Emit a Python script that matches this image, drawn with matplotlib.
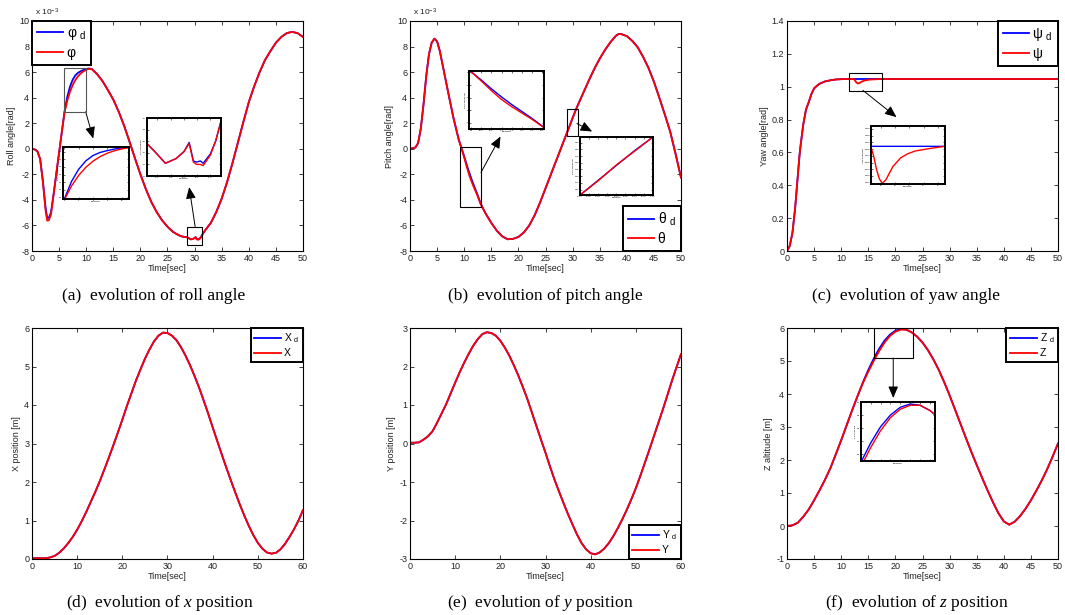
import matplotlib
matplotlib.use('Agg')
import matplotlib.pyplot as plt
from matplotlib.patches import Rectangle

plt.rcParams['font.family'] = ['Liberation Sans', 'DejaVu Sans']
plt.rcParams['mathtext.fontset'] = 'custom'
plt.rcParams['mathtext.rm'] = 'Liberation Sans'
plt.rcParams['mathtext.it'] = 'Liberation Serif:italic'
plt.rcParams['mathtext.bf'] = 'Liberation Sans:bold'
plt.rcParams['axes.unicode_minus'] = False

# ---------------- data ----------------
# roll angle, units of 1e-3 rad
roll_t = [0, 0.5, 1, 1.5, 2, 2.5, 2.8, 3.1, 3.5, 4, 4.5, 5, 5.5, 6, 6.5, 7, 7.5, 8, 8.5, 9,
          9.5, 10, 10.5, 11, 12, 13, 14, 15, 16, 17, 18, 19, 20, 21, 22, 23, 24, 25, 26, 27,
          27.5, 28, 28.6, 28.9, 29.3, 29.7, 30.0, 30.2, 30.36, 30.48, 30.62, 30.73, 31.0, 31.2, 31.4,
          32, 33, 34, 35, 36, 37, 38, 39, 40, 41, 42, 43, 44, 45, 46, 47, 48, 49, 50]
roll_ref = [0, -0.05, -0.2, -0.8, -2.5, -4.6, -5.4, -5.4, -5.0, -3.5, -1.9, -0.3, 1.3, 2.9, 4.05, 4.85, 5.4, 5.75, 5.95, 6.07,
            6.17, 6.24, 6.28, 6.25, 5.85, 5.3, 4.6, 3.85, 2.9, 1.8, 0.55, -0.75, -2.0, -3.15, -4.15, -4.95, -5.6, -6.1, -6.5, -6.75,
            -6.84, -6.89, -6.92, -6.99, -7.09, -7.05, -6.99, -6.91, -7.07, -7.08, -7.07, -7.09, -7.01, -6.9, -6.73,
            -6.35, -5.8, -4.95, -3.9, -2.6, -1.1, 0.5, 2.1, 3.65, 4.9, 6.0, 6.95, 7.65, 8.3, 8.75, 9.05, 9.15, 9.05, 8.75]
roll_act = [0, -0.05, -0.2, -0.8, -2.55, -4.8, -5.62, -5.6, -5.15, -3.55, -1.9, -0.3, 1.3, 2.85, 3.75, 4.45, 4.98, 5.38, 5.68, 5.9,
            6.06, 6.18, 6.26, 6.25, 5.85, 5.3, 4.6, 3.85, 2.9, 1.8, 0.55, -0.75, -2.0, -3.15, -4.15, -4.95, -5.6, -6.1, -6.5, -6.75,
            -6.84, -6.89, -6.92, -6.99, -7.09, -7.05, -6.99, -6.92, -7.08, -7.1, -7.1, -7.11, -7.02, -6.9, -6.73,
            -6.35, -5.8, -4.95, -3.9, -2.6, -1.1, 0.5, 2.1, 3.65, 4.9, 6.0, 6.95, 7.65, 8.3, 8.75, 9.05, 9.15, 9.05, 8.75]

# pitch angle, units of 1e-3 rad
pitch_t = [0, 1, 1.5, 2, 2.5, 3, 3.5, 4, 4.5, 5, 5.5, 6, 7, 8, 9, 9.5, 10, 10.5, 11, 11.5,
           12, 12.5, 13, 13.5, 14, 15, 16, 17, 18, 19, 20, 21, 22, 23, 24, 25, 26, 27, 28, 29,
           29.5, 30, 30.5, 31, 32, 33, 34, 35, 36, 37, 38, 38.5, 39, 40, 41, 42, 43, 44, 45, 46,
           47, 48, 49, 50]
pitch_ref = [0, 0.1, 0.45, 1.6, 3.5, 5.7, 7.4, 8.3, 8.62, 8.4, 7.65, 6.6, 4.5, 2.45, 0.7, 0.05, -0.6, -1.3, -1.95, -2.55,
             -3.1, -3.65, -4.25, -4.7, -5.1, -5.8, -6.4, -6.85, -7.08, -7.05, -6.9, -6.55, -6.0, -5.2, -4.2, -3.1, -2.0, -0.9, 0.2, 1.3,
             1.85, 2.4, 2.95, 3.45, 4.4, 5.35, 6.25, 7.05, 7.75, 8.35, 8.85, 8.98, 8.97, 8.82, 8.45, 7.95, 7.2, 6.33, 5.25, 4.0,
             2.7, 1.35, -0.4, -2.25]
pitch_act = [0, 0.1, 0.45, 1.6, 3.5, 5.7, 7.4, 8.3, 8.62, 8.4, 7.65, 6.6, 4.5, 2.45, 0.7, 0.05, -0.68, -1.45, -2.15, -2.72,
             -3.22, -3.72, -4.28, -4.7, -5.1, -5.8, -6.4, -6.85, -7.08, -7.05, -6.9, -6.55, -6.0, -5.2, -4.2, -3.1, -2.0, -0.9, 0.2, 1.3,
             1.83, 2.42, 2.93, 3.45, 4.4, 5.35, 6.25, 7.05, 7.75, 8.35, 8.85, 8.98, 8.97, 8.82, 8.45, 7.95, 7.2, 6.33, 5.25, 4.0,
             2.7, 1.35, -0.4, -2.25]

# yaw angle, rad
yaw_t = [0, 0.5, 1, 1.3, 1.5, 1.8, 2, 2.3, 2.5, 3, 3.5, 4, 4.5, 5, 5.5, 6, 7, 8, 9, 10,
         11, 12.3, 12.5, 12.7, 12.9, 13.1, 13.35, 13.6, 13.85, 14.4, 14.9, 15.4, 16.5, 17.5, 20, 30, 40, 50]
yaw_ref = [0, 0.03, 0.11, 0.2, 0.26, 0.38, 0.46, 0.58, 0.64, 0.77, 0.86, 0.905, 0.955, 0.99, 1.005, 1.018, 1.032, 1.039, 1.044, 1.046,
           1.047, 1.047, 1.047, 1.047, 1.047, 1.047, 1.047, 1.047, 1.047, 1.047, 1.047, 1.047, 1.047, 1.047, 1.047, 1.047, 1.047, 1.047]
yaw_act = [0, 0.03, 0.11, 0.2, 0.26, 0.38, 0.46, 0.58, 0.64, 0.77, 0.86, 0.905, 0.955, 0.99, 1.005, 1.018, 1.032, 1.039, 1.044, 1.046,
           1.047, 1.047, 1.040, 1.030, 1.023, 1.0195, 1.022, 1.027, 1.032, 1.0385, 1.0415, 1.0435, 1.0455, 1.047, 1.047, 1.047, 1.047, 1.047]

# x position, m (desired and actual overlap)
x_t = list(range(0, 61))
x_pos = [0.02, 0.02, 0.02, 0.02, 0.04, 0.08, 0.16, 0.27, 0.41, 0.57, 0.76, 0.98, 1.22, 1.48, 1.74, 2.02, 2.32, 2.63, 2.95, 3.28,
         3.62, 3.97, 4.3, 4.63, 4.92, 5.2, 5.44, 5.65, 5.8, 5.88, 5.87, 5.8, 5.68, 5.5, 5.28, 5.03, 4.75, 4.45, 4.12, 3.78,
         3.42, 3.07, 2.72, 2.38, 2.05, 1.73, 1.42, 1.13, 0.86, 0.62, 0.42, 0.27, 0.17, 0.14, 0.16, 0.25, 0.39, 0.57, 0.77, 1.0,
         1.27]

# y position, m
y_t = list(range(0, 61))
y_pos = [0.02, 0.02, 0.03, 0.1, 0.19, 0.32, 0.54, 0.78, 1.02, 1.3, 1.58, 1.85, 2.1, 2.33, 2.54, 2.71, 2.84, 2.89, 2.87, 2.8,
         2.67, 2.49, 2.28, 2.03, 1.76, 1.46, 1.15, 0.8, 0.45, 0.1, -0.24, -0.6, -0.94, -1.25, -1.55, -1.84, -2.11, -2.37, -2.59, -2.75,
         -2.85, -2.88, -2.83, -2.73, -2.59, -2.41, -2.2, -1.97, -1.72, -1.45, -1.16, -0.84, -0.5, -0.16, 0.19, 0.54, 0.89, 1.26, 1.63, 1.98,
         2.32]

# z altitude, m
z_t = list(range(0, 51))
z_ref = [0.0, 0.02, 0.1, 0.28, 0.5, 0.78, 1.08, 1.4, 1.75, 2.17, 2.6, 3.05, 3.5, 3.93, 4.35, 4.73, 5.07, 5.37, 5.62, 5.8,
         5.92, 5.97, 5.95, 5.87, 5.74, 5.56, 5.33, 5.05, 4.73, 4.36, 3.96, 3.53, 3.1, 2.67, 2.25, 1.85, 1.46, 1.08, 0.72, 0.39,
         0.14, 0.04, 0.13, 0.3, 0.52, 0.78, 1.07, 1.38, 1.72, 2.1, 2.5]
z_act = [0.0, 0.02, 0.1, 0.28, 0.5, 0.78, 1.08, 1.4, 1.75, 2.17, 2.6, 3.05, 3.5, 3.93, 4.33, 4.68, 5.0, 5.3, 5.56, 5.76,
         5.89, 5.95, 5.95, 5.87, 5.74, 5.56, 5.33, 5.05, 4.73, 4.36, 3.96, 3.53, 3.1, 2.67, 2.25, 1.85, 1.46, 1.08, 0.72, 0.39,
         0.14, 0.04, 0.13, 0.3, 0.52, 0.78, 1.07, 1.38, 1.72, 2.1, 2.5]

captions = ['(a)  evolution of roll angle', '(b)  evolution of pitch angle', '(c)  evolution of yaw angle',
            '(d)  evolution of $x$ position', '(e)  evolution of $y$ position', '(f)  evolution of $z$ position']

fig = plt.figure(figsize=(10.65, 6.15), dpi=100)
W, H = 1065.0, 615.0


def make_axes(x0, x1, ytop, ybot):
    return fig.add_axes([x0 / W, 1 - ybot / H, (x1 - x0) / W, (ybot - ytop) / H])


def style(ax, xlim, xticks, ylim, yticks, ylabel):
    ax.set_xlim(xlim)
    ax.set_ylim(ylim)
    ax.set_xticks(xticks)
    ax.set_yticks(yticks)
    ax.tick_params(direction='in', top=True, right=True, length=3, width=0.6,
                   labelsize=6.5, colors='#222222', pad=2)
    for sp in ax.spines.values():
        sp.set_linewidth(0.8)
    ax.set_xlabel('Time[sec]', fontsize=6.5, labelpad=1, color='#222222')
    ax.set_ylabel(ylabel, fontsize=6.5, labelpad=2, color='#222222')


def legend(ax, labels, loc, size, hlen=1.9):
    leg = ax.legend(labels, loc=loc, fontsize=size, borderaxespad=0, fancybox=False,
                    framealpha=1, edgecolor='black', handlelength=hlen, borderpad=0.35,
                    labelspacing=0.3, handletextpad=0.25)
    leg.get_frame().set_linewidth(1.4)


def inset(ax, bounds, t, ref, act, xlim, ylim, ylabel):
    ins = ax.inset_axes(bounds)
    ins.plot(t, ref, color='blue', lw=1.0)
    ins.plot(t, act, color='red', lw=1.0)
    ins.set_xlim(xlim)
    ins.set_ylim(ylim)
    ins.tick_params(direction='in', top=True, right=True, length=1.5, width=0.4,
                    labelsize=1.6, pad=0.5)
    for sp in ins.spines.values():
        sp.set_linewidth(1.4)
    ins.set_xlabel('Time[sec]', fontsize=1.6, labelpad=0.3)
    ins.set_ylabel(ylabel, fontsize=1.6, labelpad=0.3)
    return ins


def zoom_box(ax, x0, x1, y0, y1, color='black'):
    ax.add_patch(Rectangle((x0, y0), x1 - x0, y1 - y0, fill=False, edgecolor=color, lw=0.8, zorder=4))


def arrow(ax, start, end):
    ax.annotate('', xy=end, xytext=start,
                arrowprops=dict(arrowstyle='-|>,head_length=0.7,head_width=0.3', color='black',
                                lw=0.7, shrinkA=0, shrinkB=0))


# ---------------- (a) roll ----------------
ax = make_axes(32, 303, 21, 251)
ax.plot(roll_t, roll_ref, color='blue', lw=1.3, label='ref')
ax.plot(roll_t, roll_act, color='red', lw=1.3)
style(ax, (0, 50), range(0, 51, 5), (-8, 10), range(-8, 11, 2), 'Roll angle[rad]')
ax.text(0.01, 1.012, r'x 10$^{-3}$', transform=ax.transAxes, fontsize=6, va='bottom', color='#222222')
legend(ax, ['φ $_{\\mathrm{d}}$', 'φ'], 'upper left', 10)
zoom_box(ax, 5.9, 9.9, 2.9, 6.3, color='#555555')
zoom_box(ax, 28.6, 31.4, -7.5, -6.1)
inset(ax, [0.114, 0.226, 0.244, 0.226], roll_t, roll_ref, roll_act, (5.9, 10.5), (2.9, 6.3), 'Roll angle[rad]')
inset(ax, [0.424, 0.326, 0.273, 0.252], roll_t, roll_ref, roll_act, (28.6, 31.4), (-7.2, -6.7), 'Roll angle[rad]')
arrow(ax, (9.9, 2.9), (11.3, 0.8))
arrow(ax, (30.1, -6.1), (29.0, -3.0))

# ---------------- (b) pitch ----------------
ax = make_axes(410, 681, 21, 251)
ax.plot(pitch_t, pitch_ref, color='blue', lw=1.3)
ax.plot(pitch_t, pitch_act, color='red', lw=1.3)
style(ax, (0, 50), range(0, 51, 5), (-8, 10), range(-8, 11, 2), 'Pitch angle[rad]')
ax.text(0.01, 1.012, r'x 10$^{-3}$', transform=ax.transAxes, fontsize=6, va='bottom', color='#222222')
legend(ax, ['θ $_{\\mathrm{d}}$', 'θ'], 'lower right', 10)
zoom_box(ax, 9.3, 13.1, -4.53, 0.13)
zoom_box(ax, 29.0, 31.0, 1.0, 3.15)
inset(ax, [0.218, 0.53, 0.277, 0.252], pitch_t, pitch_ref, pitch_act, (9.4, 13.1), (-4.5, 0.1), 'Pitch angle[rad]')
inset(ax, [0.627, 0.243, 0.269, 0.252], pitch_t, pitch_ref, pitch_act, (29.0, 31.0), (1.3, 3.45), 'Pitch angle[rad]')
arrow(ax, (13.1, -1.85), (16.7, 0.96))
arrow(ax, (30.8, 1.98), (33.6, 1.35))

# ---------------- (c) yaw ----------------
ax = make_axes(787, 1058, 21, 251)
ax.plot(yaw_t, yaw_ref, color='blue', lw=1.3)
ax.plot(yaw_t, yaw_act, color='red', lw=1.3)
style(ax, (0, 50), range(0, 51, 5), (0, 1.4), [0, 0.2, 0.4, 0.6, 0.8, 1.0, 1.2, 1.4], 'Yaw angle[rad]')
ax.set_yticklabels(['0', '0.2', '0.4', '0.6', '0.8', '1', '1.2', '1.4'])
legend(ax, ['ψ $_{\\mathrm{d}}$', 'ψ'], 'upper right', 10)
zoom_box(ax, 11.5, 17.5, 0.976, 1.085)
inset(ax, [0.309, 0.291, 0.274, 0.252], yaw_t, yaw_ref, yaw_act, (12.3, 17.5), (1.019, 1.062), 'Yaw angle[rad]')
arrow(ax, (14.0, 0.978), (20.2, 0.815))

# ---------------- (d) x ----------------
ax = make_axes(32, 303, 328, 559)
ax.plot(x_t, x_pos, color='blue', lw=1.3)
ax.plot(x_t, x_pos, color='red', lw=1.3)
style(ax, (0, 60), range(0, 61, 10), (0, 6), range(0, 7), 'X position [m]')
legend(ax, ['X $_{\\mathrm{d}}$', 'X'], 'upper right', 7.5, hlen=2.6)

# ---------------- (e) y ----------------
ax = make_axes(410, 681, 328, 559)
ax.plot(y_t, y_pos, color='blue', lw=1.3)
ax.plot(y_t, y_pos, color='red', lw=1.3)
style(ax, (0, 60), range(0, 61, 10), (-3, 3), range(-3, 4), 'Y position [m]')
legend(ax, ['Y $_{\\mathrm{d}}$', 'Y'], 'lower right', 7.5, hlen=2.6)

# ---------------- (f) z ----------------
ax = make_axes(787, 1058, 328, 559)
ax.plot(z_t, z_ref, color='blue', lw=1.3)
ax.plot(z_t, z_act, color='red', lw=1.3)
style(ax, (0, 50), range(0, 51, 5), (-1, 6), range(-1, 7), 'Z altitude [m]')
legend(ax, ['Z $_{\\mathrm{d}}$', 'Z'], 'upper right', 7.5, hlen=2.6)
zoom_box(ax, 16.1, 23.3, 5.09, 6.0)
inset(ax, [0.272, 0.4255, 0.274, 0.254], z_t, z_ref, z_act, (16.0, 23.5), (5.1, 6.0), 'Z altitude [m]')
arrow(ax, (19.6, 5.09), (19.6, 3.88))

# ---------------- captions ----------------
cap_x = [154, 545, 906, 160, 540, 917]
cap_y = [296, 296, 296, 603, 603, 603]
for cx, cy, txt in zip(cap_x, cap_y, captions):
    fig.text(cx / W, 1 - cy / H, txt, ha='center', va='center', fontsize=12.5,
             family='Liberation Serif')

fig.savefig('out.png', dpi=100)
